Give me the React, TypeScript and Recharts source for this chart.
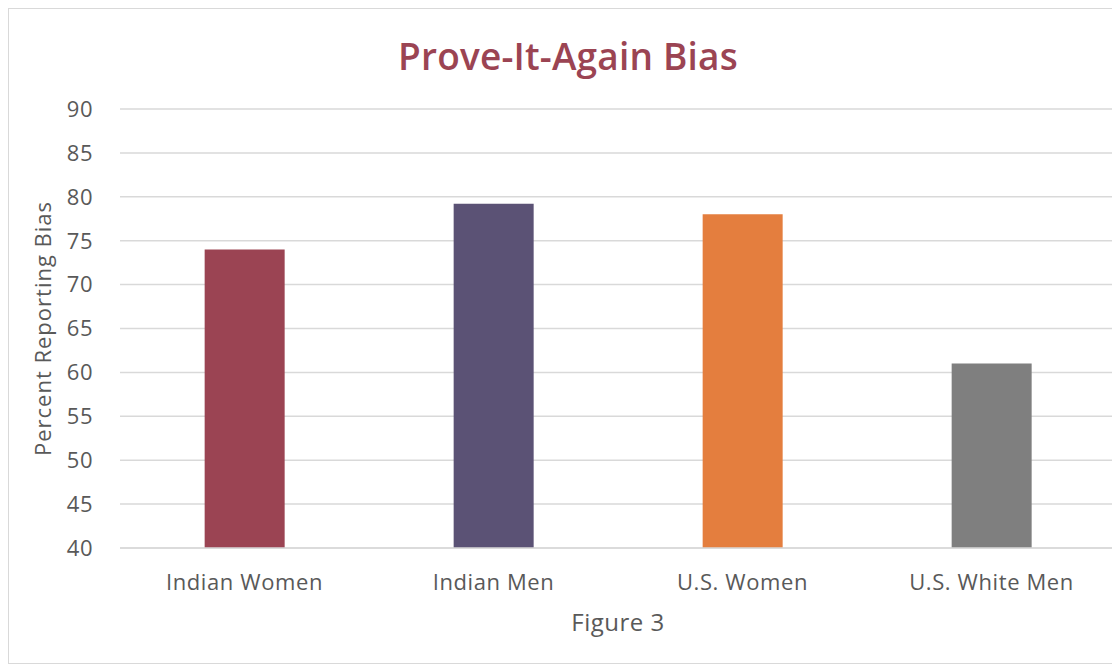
import React from 'react';
import { BarChart, Bar, XAxis, YAxis, CartesianGrid, Cell, Label } from 'recharts';

const categories = ['Indian Women', 'Indian Men', 'U.S. Women', 'U.S. White Men'];
const percentValues = [74, 79.2, 78, 61];
const barColors = ['#9b4453', '#5b5275', '#e47e3e', '#7f7f7f'];
const yTicks = [40, 45, 50, 55, 60, 65, 70, 75, 80, 85, 90];

const chartData = categories.map((name, i) => ({ name, value: percentValues[i] }));

const font = "'Open Sans', sans-serif";

const App: React.FC = () => {
  return (
    <div
      style={{
        position: 'relative',
        width: 1110,
        height: 654,
        border: '1px solid #d9d9d9',
        background: '#fff',
        fontFamily: font,
      }}>
      <div
        style={{
          position: 'absolute',
          top: 21,
          left: 0,
          width: 1118,
          textAlign: 'center',
          fontSize: 37,
          fontWeight: 600,
          color: '#9b4453',
          letterSpacing: 0.2,
        }}>
        Prove-It-Again Bias
      </div>
      <BarChart
        width={1110}
        height={654}
        data={chartData}
        margin={{ top: 100, right: 3, left: 6, bottom: 0 }}
        barCategoryGap='34%'>
        <CartesianGrid
          vertical={false}
          stroke='#d9d9d9'
          strokeWidth={1.5}
        />
        <XAxis
          dataKey='name'
          axisLine={{ stroke: '#d9d9d9', strokeWidth: 1.5 }}
          tickLine={false}
          tickSize={0}
          tickMargin={26}
          height={115}
          tick={{ fill: '#595959', fontSize: 22, fontFamily: font, letterSpacing: 0.6 }}>
          <Label
            value='Figure 3'
            position='insideTop'
            offset={66}
            style={{ fill: '#595959', fontSize: 24, fontFamily: font, letterSpacing: 0.5 }}
          />
        </XAxis>
        <YAxis
          domain={[40, 90]}
          ticks={yTicks}
          allowDataOverflow
          axisLine={false}
          tickLine={false}
          tickSize={0}
          tickMargin={27}
          width={105}
          tick={{ fill: '#595959', fontSize: 22, fontFamily: font, letterSpacing: 0.5 }}>
          <Label
            value='Percent Reporting Bias'
            angle={-90}
            position='insideLeft'
            offset={28}
            style={{
              fill: '#595959',
              fontSize: 22,
              fontFamily: font,
              letterSpacing: 1,
              textAnchor: 'middle',
            }}
          />
        </YAxis>
        <Bar
          dataKey='value'
          isAnimationActive={false}>
          {chartData.map((d, i) => (
            <Cell
              key={d.name}
              fill={barColors[i]}
            />
          ))}
        </Bar>
      </BarChart>
    </div>
  );
};

export default App;
